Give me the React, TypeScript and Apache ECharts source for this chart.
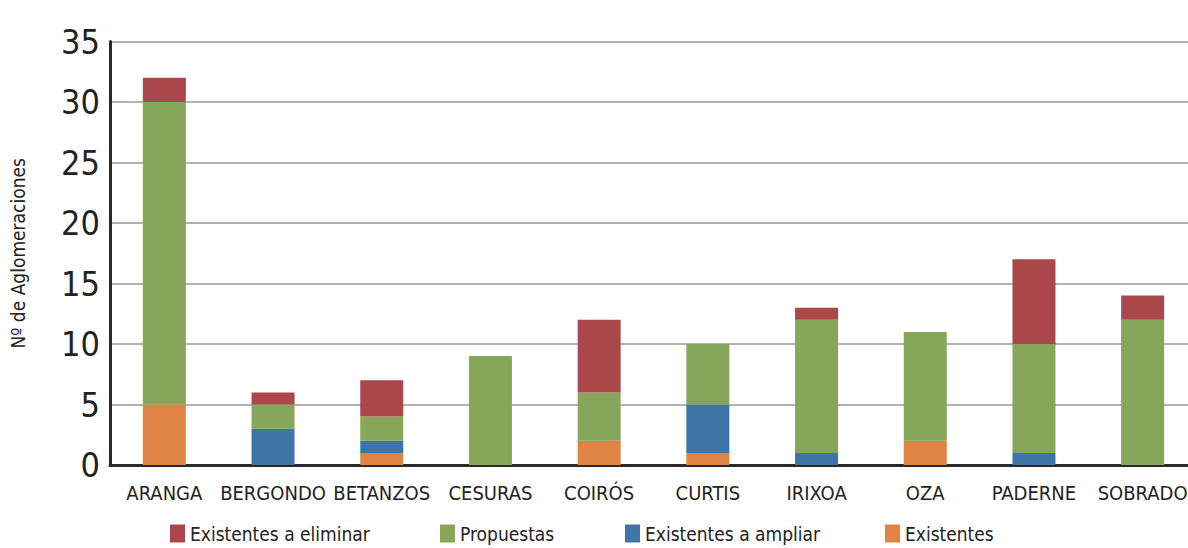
import React, { useEffect, useRef } from "react";
import * as echarts from "echarts";

const categories = ["ARANGA", "BERGONDO", "BETANZOS", "CESURAS", "COIRÓS", "CURTIS", "IRIXOA", "OZA", "PADERNE", "SOBRADO"];
const existentes = [5, 0, 1, 0, 2, 1, 0, 2, 0, 0];
const existentesAmpliar = [0, 3, 1, 0, 0, 4, 1, 0, 1, 0];
const propuestas = [25, 2, 2, 9, 4, 5, 11, 9, 9, 12];
const existentesEliminar = [2, 1, 3, 0, 6, 0, 1, 0, 7, 2];
const yTicks = [0, 5, 10, 15, 20, 25, 30, 35];
const legendNames = ["Existentes a eliminar", "Propuestas", "Existentes a ampliar", "Existentes"];
const legendLefts = [170, 440, 625, 885];

const FONT = "'Liberation Sans Narrow', 'DejaVu Sans Condensed', 'Roboto Condensed', 'Liberation Sans', sans-serif";

export default function App() {
  const ref = useRef<HTMLDivElement>(null);
  useEffect(() => {
    if (!ref.current) return;
    const chart = echarts.init(ref.current, undefined, { renderer: "svg" });
    const mk = (name: string, data: number[], color: string) => ({
      name,
      type: "bar",
      stack: "total",
      data,
      barWidth: 43,
      itemStyle: { color },
      emphasis: { disabled: true },
    });
    chart.setOption({
      animation: false,
      textStyle: { fontFamily: FONT },
      grid: { left: 103, right: 3, top: 41.5, bottom: 83, containLabel: false },
      legend: legendNames.map((n, i) => ({
        top: 524,
        left: legendLefts[i],
        padding: 0,
        itemWidth: 15,
        itemHeight: 18,
        icon: "rect",
        data: [n],
        textStyle: { fontFamily: FONT, fontSize: 19, color: "#222" },
      })),
      xAxis: {
        type: "category",
        data: categories,
        axisLine: { lineStyle: { color: "#2a2a2a", width: 3 } },
        axisTick: { show: false },
        axisLabel: { fontFamily: FONT, fontSize: 20, color: "#222", margin: 18, interval: 0 },
      },
      yAxis: {
        type: "value",
        min: yTicks[0],
        max: yTicks[yTicks.length - 1],
        interval: 5,
        name: "Nº de Aglomeraciones",
        nameLocation: "middle",
        nameGap: 83,
        nameTextStyle: { fontFamily: FONT, fontSize: 19, color: "#222" },
        axisLine: { show: true, lineStyle: { color: "#2a2a2a", width: 3 } },
        axisTick: { show: false },
        axisLabel: { fontFamily: FONT, fontSize: 34, color: "#222", margin: 10, padding: [0, 0, 14, 0] },
        splitLine: { lineStyle: { color: "#999", width: 1.5 } },
      },
      series: [
        mk("Existentes", existentes, "#DF8444"),
        mk("Existentes a ampliar", existentesAmpliar, "#3F74A9"),
        mk("Propuestas", propuestas, "#86A75A"),
        mk("Existentes a eliminar", existentesEliminar, "#A9474A"),
      ],
    });
    return () => chart.dispose();
  }, []);
  return (
    <div
      ref={ref}
      style={{ position: "fixed", left: 0, top: 0, width: 1200, height: 548, background: "#fff" }}
    />
  );
}
